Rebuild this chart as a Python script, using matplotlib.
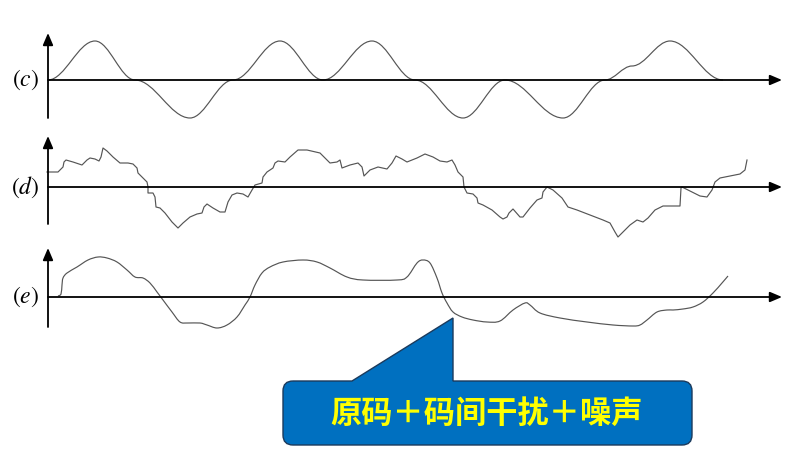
import matplotlib
matplotlib.use("Agg")
import matplotlib.pyplot as plt
from matplotlib.path import Path
from matplotlib.patches import PathPatch

plt.rcParams["mathtext.fontset"] = "stix"

# ── Datos (x en píxeles, amplitud sobre la línea base) ──
c_x   = [48, 95, 135, 190, 233, 280, 323, 372, 415, 463, 505, 563, 605, 632, 670, 723]
c_amp = [0, 39, 0, -38, 0, 39, 0, 39, 0, -38, 0, -38, 0, 14, 39, 0]

d_x = [47, 58, 63, 64, 66, 73, 82, 87, 90, 95, 99, 101, 103, 107, 113, 120, 128, 133, 137, 138,
       143, 147, 148, 148, 153, 155, 156, 160, 165, 172, 178, 183, 190, 197, 202, 204, 207, 213, 220, 225,
       228, 232, 237, 243, 248, 252, 255, 262, 263, 267, 273, 275, 278,
       285, 290, 298, 307, 320, 327, 330, 337, 340, 342, 350, 358, 362, 364, 370, 378, 387, 392, 396, 402,
       407, 417, 425, 433, 440, 447, 452, 455, 458, 463, 464, 467, 473, 477, 478, 483, 492, 500, 503, 507,
       509,
       513, 520, 523, 530, 537, 542, 543, 547, 553, 562, 568, 577, 590, 603, 610, 615, 618, 623, 630, 637,
       643, 648, 655, 663, 673, 680, 681, 682, 692, 700, 707, 712, 715, 720, 730, 740, 745, 747]
d_amp = [15, 15, 20, 25, 27, 25, 22, 27, 29, 28, 26, 30, 39, 36, 30, 24, 24, 23, 19, 14,
         9, 5, 0, -6, -6, -10, -20, -21, -26, -35, -41, -36, -30, -27, -26, -20, -17, -21, -25, -25,
         -15, -8, -6, -7, -10, -3, 2, 4, 10, 15, 19, 24, 26,
         25, 30, 37, 37, 34, 27, 24, 25, 27, 19, 22, 24, 20, 11, 17, 20, 18, 24, 31, 28,
         25, 29, 33, 30, 26, 25, 27, 22, 15, 10, 0, -6, -7, -11, -16, -18, -23, -30, -32, -30,
         -26,
         -22, -30, -30, -21, -13, -11, -5, 0, -3, -11, -20, -23, -28, -33, -36, -45, -50, -45, -38, -33,
         -35, -31, -23, -19, -19, -19, -1, 0, -5, -9, -10, -3, 5, 9, 11, 13, 17, 27]

e_x = [58, 61, 62, 63, 67, 77, 88, 98, 107, 117, 127, 135, 143, 150, 157, 163, 172, 180, 188, 200,
       207, 217, 227, 237, 245, 250, 255, 262, 270, 283, 303, 317, 330, 347, 363, 397, 407, 417, 423, 430,
       437, 442, 447, 453, 462, 473, 487, 500, 513, 525, 530, 540, 560, 587, 613, 633, 640, 647, 657, 667,
       673, 683, 693, 703, 713, 722, 728]
e_amp = [1, 3, 12, 19, 24, 30, 37, 40, 39, 35, 27, 20, 19, 14, 5, -3, -15, -25, -26, -26,
         -28, -31, -28, -20, -8, 0, 12, 24, 30, 35, 37, 35, 29, 20, 17, 17, 20, 34, 37, 34,
         19, 4, -6, -15, -20, -23, -25, -24, -13, -6, -8, -16, -21, -25, -28, -29, -28, -23, -15, -13,
         -13, -12, -10, -5, 4, 14, 21]

etiquetas = ["(c)", "(d)", "(e)"]
texto_nota = "原码＋码间干扰＋噪声"

# ── Geometría de cada fila: línea base, extremos del eje vertical ─────────
filas = [(80, 33, 118), (187, 136, 224), (297, 248, 327)]
x_eje, x_fin = 48, 782

fig = plt.figure(figsize=(8.11, 4.5), dpi=100)
ax = fig.add_axes([0, 0, 1, 1])
ax.set_xlim(0, 811)
ax.set_ylim(450, 0)
ax.axis("off")

flecha = dict(arrowstyle="-|>,head_length=0.4,head_width=0.17", mutation_scale=18,
              lw=1.3, color="black", shrinkA=0, shrinkB=0)
for (base, arriba, abajo), etq in zip(filas, etiquetas):
    ax.annotate("", xy=(x_fin, base), xytext=(x_eje, base), arrowprops=flecha)
    ax.annotate("", xy=(x_eje, arriba), xytext=(x_eje, abajo), arrowprops=flecha)
    ax.text(39, base, f"${etq}$", ha="right", va="center", fontsize=17)

color_onda = "#555555"

# (c): tramos suaves entre extremos (Bezier cúbico con tangente horizontal)
base_c = filas[0][0]
verts = [(c_x[0], base_c - c_amp[0])]
codes = [Path.MOVETO]
for i in range(1, len(c_x)):
    x0, y0 = c_x[i - 1], base_c - c_amp[i - 1]
    x1, y1 = c_x[i], base_c - c_amp[i]
    dx = x1 - x0
    verts += [(x0 + 0.36 * dx, y0), (x1 - 0.36 * dx, y1), (x1, y1)]
    codes += [Path.CURVE4] * 3
ax.add_patch(PathPatch(Path(verts, codes), fill=False, edgecolor=color_onda, lw=0.85))

# (d): trazo quebrado
base_d = filas[1][0]
ax.plot(d_x, [base_d - a for a in d_amp], color=color_onda, lw=0.85)

# (e): Catmull-Rom para suavizar
base_e = filas[2][0]
pts = [(x, base_e - a) for x, a in zip(e_x, e_amp)]
verts = [pts[0]]
codes = [Path.MOVETO]
for i in range(len(pts) - 1):
    p0 = pts[i - 1] if i > 0 else pts[i]
    p1, p2 = pts[i], pts[i + 1]
    p3 = pts[i + 2] if i + 2 < len(pts) else p2
    c1 = (p1[0] + (p2[0] - p0[0]) / 6, p1[1] + (p2[1] - p0[1]) / 6)
    c2 = (p2[0] - (p3[0] - p1[0]) / 6, p2[1] - (p3[1] - p1[1]) / 6)
    verts += [c1, c2, p2]
    codes += [Path.CURVE4] * 3
ax.add_patch(PathPatch(Path(verts, codes), fill=False, edgecolor=color_onda, lw=0.85))

# ── Globo de texto con puntero ──────────────────────────────────────────────
x0, x1, y0, y1, r = 283, 692, 381, 445, 10
punta = (453, 318)
globo = [
    (x0 + r, y0), (352, y0), punta, (453, y0), (x1 - r, y0),
    (x1, y0), (x1, y0 + r), (x1, y1 - r), (x1, y1), (x1 - r, y1),
    (x0 + r, y1), (x0, y1), (x0, y1 - r), (x0, y0 + r), (x0, y0), (x0 + r, y0),
]
cod = [Path.MOVETO, Path.LINETO, Path.LINETO, Path.LINETO, Path.LINETO,
       Path.CURVE3, Path.CURVE3, Path.LINETO, Path.CURVE3, Path.CURVE3,
       Path.LINETO, Path.CURVE3, Path.CURVE3, Path.LINETO, Path.CURVE3, Path.CURVE3]
ax.add_patch(PathPatch(Path(globo, cod), facecolor="#0070C0", edgecolor="#1b3a5c", lw=1.0))
ax.text(487, (y0 + y1) / 2 + 1, texto_nota, ha="center", va="center",
        fontsize=22.5, fontweight="bold", color="#FFFF00",
        family=["Noto Sans CJK SC", "DejaVu Sans"])

fig.savefig("out.png", dpi=100)
